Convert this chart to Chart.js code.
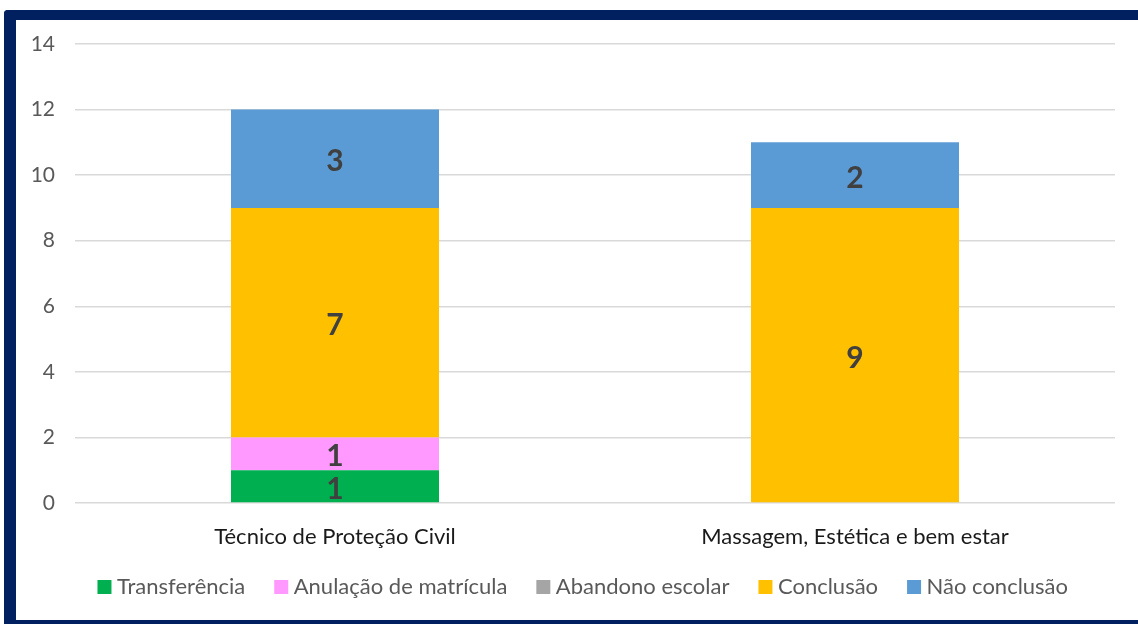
<!DOCTYPE html>
<html><head><meta charset="utf-8">
<script src="https://cdn.jsdelivr.net/npm/chart.js@4.4.1/dist/chart.umd.min.js"></script>
<style>
html,body{margin:0;padding:0;width:1138px;height:624px;overflow:hidden;background:#fff;}
#frame{position:absolute;left:4px;top:10px;width:1200px;height:600px;border-left:12px solid #002060;border-top:10px solid #002060;border-bottom:12px solid #002060;border-top-left-radius:4px;box-sizing:content-box;}
#wrap{position:absolute;left:16px;top:20px;width:1122px;height:600px;}
</style></head><body>
<div id="frame"></div>
<div id="wrap"><canvas id="c" width="1122" height="600"></canvas></div>
<script>
const categories = ["Técnico de Proteção Civil", "Massagem, Estética e bem estar"];
const seriesNames = ["Transferência", "Anulação de matrícula", "Abandono escolar", "Conclusão", "Não conclusão"];
const transferencia = [1, 0];
const anulacao = [1, 0];
const abandono = [0, 0];
const conclusao = [7, 9];
const naoConclusao = [3, 2];
const colors = ["#00B050", "#FF99FF", "#A5A5A5", "#FFC000", "#5B9BD5"];
const yTicks = [0, 2, 4, 6, 8, 10, 12, 14];

const FONT = "Lato, 'Open Sans', sans-serif";
const values = [transferencia, anulacao, abandono, conclusao, naoConclusao];

const labelPlugin = {
  id: 'segLabels',
  afterDatasetsDraw(chart) {
    const ctx = chart.ctx;
    ctx.save();
    ctx.font = "bold 30px " + FONT;
    ctx.fillStyle = "#404040";
    ctx.textAlign = "center";
    ctx.textBaseline = "middle";
    chart.data.datasets.forEach((ds, i) => {
      const meta = chart.getDatasetMeta(i);
      meta.data.forEach((bar, j) => {
        const v = ds.data[j];
        if (!v) return;
        const p = bar.getProps(['x', 'y', 'base'], true);
        ctx.fillText(String(v), p.x, (p.y + p.base) / 2 + 3);
      });
    });
    ctx.restore();
  }
};

const legendShift = {
  id: 'legendShift',
  afterLayout(chart) {
    const lg = chart.legend;
    if (lg) { lg.top -= 7.5; lg.bottom -= 7.5; lg.left += 20; lg.right += 20; }
  }
};

new Chart(document.getElementById('c'), {
  type: 'bar',
  data: {
    labels: categories,
    datasets: seriesNames.map((n, i) => ({
      label: n,
      data: values[i],
      backgroundColor: colors[i],
      borderWidth: 0,
      barPercentage: 0.4,
      categoryPercentage: 1.0
    }))
  },
  options: {
    responsive: false,
    animation: false,
    layout: { padding: { top: 24, right: 23, left: 0, bottom: 4.5 } },
    plugins: {
      legend: {
        position: 'bottom',
        labels: {
          font: { family: FONT, size: 22 },
          color: '#595959',
          usePointStyle: true,
          pointStyle: 'rect',
          boxWidth: 3,
          boxHeight: 14,
          padding: 34.5
        }
      },
      tooltip: { enabled: false }
    },
    scales: {
      x: {
        stacked: true,
        afterFit(s) { s.height = 46; s.paddingLeft = 0; s.paddingRight = 0; },
        grid: { display: false },
        border: { display: false },
        ticks: { font: { family: FONT, size: 22 }, color: '#1a1a1a', padding: 13 }
      },
      y: {
        stacked: true,
        min: 0, max: 14,
        afterFit(s) { s.width = 59; s.paddingTop = 0; s.paddingBottom = 0; },
        afterBuildTicks(s) { s.ticks = yTicks.map(v => ({ value: v })); },
        grid: { color: '#D9D9D9', lineWidth: 1.5, drawTicks: false },
        border: { display: false },
        ticks: { font: { family: FONT, size: 21 }, color: '#595959', padding: 20, stepSize: 2 }
      }
    }
  },
  plugins: [labelPlugin, legendShift]
});
</script>
</body></html>
